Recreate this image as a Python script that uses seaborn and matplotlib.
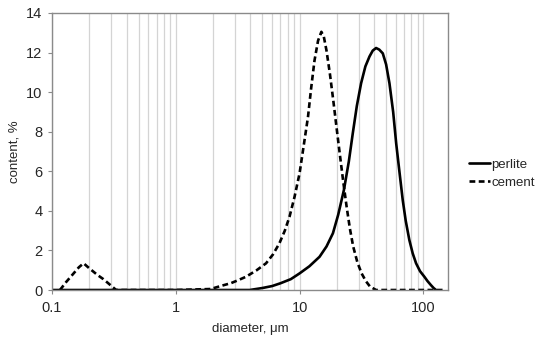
import numpy as np
import pandas as pd
import matplotlib
matplotlib.use("Agg")
import matplotlib.pyplot as plt
import seaborn as sns
from matplotlib.ticker import LogLocator, NullFormatter

# ---- data ----
perlite_d = [0.1, 1.0, 3.95, 5.0, 6.0, 7.0, 8.5, 10.0, 12.0, 14.5, 16.5, 18.6, 20.5,
             22.8, 25.0, 26.9, 29.0, 31.4, 34.0, 36.7, 39.0, 41.5, 44.0, 47.0,
             50.0, 53.2, 57.0, 60.3, 64.0, 68.1, 72.0, 77.0, 82.0, 87.3, 94.0,
             101.9, 108.0, 115.0, 121.0, 126.5]
perlite_v = [0.0, 0.0, 0.0, 0.1, 0.2, 0.34, 0.55, 0.84, 1.2, 1.68, 2.2, 2.87, 3.8,
             5.05, 6.5, 7.92, 9.3, 10.45, 11.3, 11.8, 12.1, 12.23, 12.15, 11.96,
             11.4, 10.45, 9.0, 7.41, 6.0, 4.55, 3.5, 2.53, 1.85, 1.35, 0.95,
             0.67, 0.45, 0.25, 0.1, 0.0]

cement_d = [0.116, 0.13, 0.15, 0.165, 0.18, 0.2, 0.233, 0.26, 0.29, 0.33, 1.0,
            1.91, 2.3, 2.8, 3.2, 3.69, 4.5, 5.36, 6.1, 6.87, 7.6, 8.29, 9.1,
            10.0, 10.8, 11.7, 12.4, 13.2, 14.1, 15.0, 15.7, 16.5, 17.6, 18.7,
            19.9, 21.1, 22.5, 24.0, 25.5, 27.1, 29.3, 31.7, 34.3, 37.1, 41.5,
            100.0, 150.0]
cement_v = [0.0, 0.4, 0.85, 1.15, 1.35, 1.1, 0.76, 0.55, 0.3, 0.0, 0.0,
            0.05, 0.2, 0.35, 0.5, 0.67, 1.0, 1.35, 1.8, 2.36, 3.0, 3.7, 4.7,
            5.9, 7.3, 8.76, 10.2, 11.6, 12.6, 13.05, 12.8, 12.1, 10.9, 9.6,
            8.2, 6.9, 5.5, 4.2, 3.1, 2.2, 1.4, 0.84, 0.45, 0.17, 0.0,
            0.0, 0.0]

series_names = ["perlite", "cement"]
y_ticks = [0, 2, 4, 6, 8, 10, 12, 14]
x_ticks = [0.1, 1, 10, 100]
x_tick_labels = ["0.1", "1", "10", "100"]

df = pd.concat([
    pd.DataFrame({"diameter": perlite_d, "content": perlite_v, "material": "perlite"}),
    pd.DataFrame({"diameter": cement_d, "content": cement_v, "material": "cement"}),
], ignore_index=True)

sns.set_theme(style="white")
plt.rcParams["font.family"] = ["Liberation Sans", "DejaVu Sans"]

fig = plt.figure(figsize=(5.5, 3.42), dpi=100)
ax = fig.add_axes([0.0945, 0.152, 0.72, 0.81])

ax.set_xscale("log")
sns.lineplot(data=df, x="diameter", y="content", style="material",
             style_order=series_names,
             dashes={"perlite": "", "cement": (2.2, 1.3)},
             color="black", linewidth=1.9, ax=ax, sort=False, legend=True,
             solid_joinstyle="round", dash_joinstyle="round")

ax.set_xlim(0.1, 158)
ax.set_ylim(0, 14)
ax.set_yticks(y_ticks)
ax.set_xticks(x_ticks)
ax.set_xticklabels(x_tick_labels)
ax.xaxis.set_minor_locator(LogLocator(base=10, subs=np.arange(2, 10)))
ax.xaxis.set_minor_formatter(NullFormatter())
ax.grid(False)
ax.grid(True, axis="x", which="both", color="#d4d4d4", linewidth=0.9)
ax.set_axisbelow(True)

for s in ax.spines.values():
    s.set_visible(True)
    s.set_color("#8a8a8a")
    s.set_linewidth(1.0)

ax.tick_params(axis="y", which="major", length=3, width=0.8, color="#8a8a8a",
               labelsize=10.5, pad=4, left=True)
ax.tick_params(axis="x", which="major", length=3, width=0.8, color="#8a8a8a",
               labelsize=10.5, pad=5, bottom=True)
ax.tick_params(axis="x", which="minor", length=0, bottom=False)

ax.set_xlabel("diameter, \u03bcm", fontsize=9.5, labelpad=6)
ax.set_ylabel("content, %", fontsize=9.5, labelpad=4)

handles, labels = ax.get_legend_handles_labels()
leg = ax.legend(handles, labels, loc="center left", bbox_to_anchor=(1.04, 0.42),
                frameon=False, fontsize=9.5, handlelength=1.6, handletextpad=0.1,
                labelspacing=0.45, borderaxespad=0)

fig.savefig("out.png", dpi=100, facecolor="white")
